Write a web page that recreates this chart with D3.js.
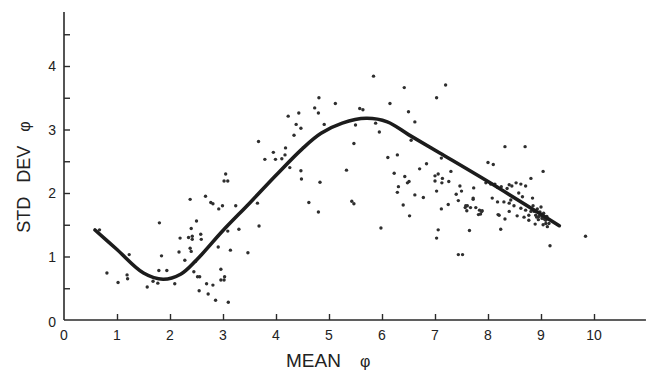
<!DOCTYPE html>
<html>
<head>
<meta charset="utf-8">
<script src="https://cdn.jsdelivr.net/npm/d3@7"></script>
<style>
  html, body { margin: 0; padding: 0; background: #fff; overflow: hidden; }
  svg { display: block; }
  text { font-family: "Liberation Sans", Arial, Helvetica, sans-serif; fill: #222; }
</style>
</head>
<body>
<svg id="chart" width="652" height="372"></svg>
<script>
// ---- data ----
const meanPhi = [
  0.67,0.81,1.02,1.23,1.19,1.20,1.57,1.68,1.77,1.79,1.94,1.80,1.84,2.09,2.17,2.19,2.28,2.35,2.38,2.40,
  2.42,2.42,2.38,2.40,2.50,2.58,2.59,2.48,2.45,2.52,2.56,2.55,2.69,2.72,2.81,2.86,2.67,2.77,2.81,2.92,
  2.99,2.91,2.96,2.96,3.03,3.02,3.10,3.05,3.02,3.09,3.24,3.09,3.14,3.30,3.47,3.68,3.65,
  3.67,3.79,3.95,3.99,4.11,4.17,4.18,4.26,4.23,4.38,4.43,4.47,4.34,4.47,4.48,4.62,4.80,4.73,4.80,4.81,
  4.91,5.12,5.33,5.43,5.47,5.47,5.50,5.58,5.64,5.84,5.88,5.95,5.98,6.15,6.11,6.29,6.23,6.42,6.50,6.62,
  6.55,4.83,6.43,6.48,6.51,6.31,6.29,6.62,6.71,6.84,6.78,6.40,6.52,7.00,7.00,7.03,7.06,7.03,7.06,7.03,
  7.20,7.12,
  7.13,7.30,7.14,7.26,7.25,7.12,7.65,7.44,7.52,7.47,7.50,7.40,7.61,7.57,7.60,7.73,7.72,7.77,7.82,7.86,
  7.89,8.00,8.10,7.96,8.13,8.18,8.25,8.32,8.70,9.04,8.19,8.32,8.24,9.17,9.84,7.44,7.72,7.58,7.67,7.84,
  7.88,8.05,8.36,8.45,8.53,8.62,8.71,8.81,8.08,8.18,8.30,8.40,8.49,8.58,8.65,8.62,8.71,8.81,8.84,8.87,
  8.90,8.96,9.02,9.09,8.77,8.40,8.43,9.15,8.77,8.68,8.55,8.21,9.09,9.04,9.12,8.89,9.02,9.06,9.11,8.40,
  8.93,8.98,9.05,8.85,9.00,8.95,8.92
];
const stdPhi = [
  1.42,0.74,0.59,1.03,0.71,0.65,0.52,0.61,0.58,0.78,0.78,1.53,1.01,0.57,1.07,1.29,0.94,1.30,1.90,1.44,
  1.32,1.27,1.13,1.08,1.56,1.35,1.27,0.92,0.76,0.68,0.68,0.46,0.57,0.41,0.55,0.31,1.95,1.85,1.83,1.75,
  1.80,1.15,0.80,0.63,0.68,0.63,0.28,2.30,2.19,2.19,1.80,1.40,1.10,1.43,1.06,1.48,1.84,
  2.81,2.53,2.64,2.53,2.54,2.60,2.71,2.40,3.21,3.08,3.26,3.02,2.91,2.35,2.22,1.85,1.70,3.34,3.26,3.50,
  3.08,3.41,2.36,1.87,1.83,2.78,3.07,3.33,3.31,3.84,3.10,2.96,1.45,3.41,2.56,2.60,2.31,3.66,3.28,3.12,
  2.83,2.17,2.26,2.16,2.18,2.10,2.01,1.97,2.38,2.46,1.93,1.81,1.64,2.27,2.19,2.03,1.42,1.29,2.30,3.50,
  3.70,2.55,
  2.16,2.34,2.23,2.18,1.82,1.75,1.41,1.03,1.03,2.11,2.03,1.98,1.80,1.77,1.72,2.08,1.92,1.77,1.66,1.67,
  1.72,2.48,2.45,2.16,2.14,2.09,2.10,2.73,2.73,2.34,1.66,1.59,1.43,1.17,1.32,1.88,1.90,1.80,1.77,1.73,
  1.71,2.14,2.07,2.11,2.16,2.14,2.11,2.23,1.92,1.86,1.86,1.84,1.80,2.00,1.94,1.76,1.73,1.71,1.92,1.71,
  1.65,1.63,1.60,1.57,1.65,1.71,1.89,1.52,1.57,1.62,1.64,1.65,1.52,1.50,1.47,1.51,1.63,1.59,1.63,2.13,
  1.75,1.70,1.68,1.80,1.78,1.58,1.62
];
// fitted trend curve
const curveMean = [0.585,1.0,1.5,1.87,2.2,2.5,3.0,3.5,4.0,4.5,4.85,5.25,5.7,6.1,6.5,7.09,8.0,9.345];
const curveStd  = [1.417,1.11,0.74,0.641,0.72,0.945,1.41,1.84,2.28,2.70,2.94,3.10,3.176,3.12,2.92,2.63,2.18,1.485];

const xTicks = [1,2,3,4,5,6,7,8,9,10];
const xTickLabels = ["1","2","3","4","5","6","7","8","9","10"];
const yTicks = [0.5,1,1.5,2,2.5,3,3.5,4,4.5];
const yLabelVals = [0,1,2,3,4];
const yLabelText = ["0","1","2","3","4"];

// ---- scales ----
const svg = d3.select("#chart");
const x = d3.scaleLinear().domain([0, 10]).range([64, 594]);
const y = d3.scaleLinear().domain([0, 4]).range([320, 66]);
const axisColor = "#2a2a2a";

// axes lines
svg.append("line").attr("x1", x(0)).attr("x2", x(10.98)).attr("y1", y(0)).attr("y2", y(0))
  .attr("stroke", axisColor).attr("stroke-width", 1.6);
svg.append("line").attr("x1", x(0)).attr("x2", x(0)).attr("y1", y(0)).attr("y2", y(4.85))
  .attr("stroke", axisColor).attr("stroke-width", 1.6);

// x ticks (inside, pointing up)
const xAxis = d3.axisTop(x).tickValues(xTicks).tickSize(6).tickFormat("");
const gx = svg.append("g").attr("transform", `translate(0,${y(0)})`).call(xAxis);
gx.select(".domain").remove();
gx.selectAll(".tick line").attr("stroke", axisColor).attr("stroke-width", 1.4);

// y ticks (inside, pointing right)
const yAxis = d3.axisRight(y).tickValues(yTicks).tickSize(6).tickFormat("");
const gy = svg.append("g").attr("transform", `translate(${x(0)},0)`).call(yAxis);
gy.select(".domain").remove();
gy.selectAll(".tick line").attr("stroke", axisColor).attr("stroke-width", 1.4);

// tick labels
svg.append("g").selectAll("text").data(xTicks).join("text")
  .attr("x", d => x(d)).attr("y", 340)
  .attr("text-anchor", "middle").attr("font-size", 14)
  .text((d, i) => xTickLabels[i]);
svg.append("text").attr("x", x(0)).attr("y", 340).attr("text-anchor", "middle")
  .attr("font-size", 14).text("0");
svg.append("g").selectAll("text").data(yLabelVals).join("text")
  .attr("x", 56).attr("y", d => y(d) + (d === 0 ? 7 : 5))
  .attr("text-anchor", "end").attr("font-size", 14)
  .text((d, i) => yLabelText[i]);

// axis titles
const xt = svg.append("text").attr("x", 286).attr("y", 367).attr("font-size", 19);
xt.append("tspan").text("MEAN");
xt.append("tspan").attr("dx", 19).attr("font-size", 16).text("φ");

const yt = svg.append("text").attr("transform", "translate(30,177) rotate(-90)")
  .attr("text-anchor", "middle").attr("font-size", 18);
yt.append("tspan").text("STD");
yt.append("tspan").attr("dx", 14).text("DEV");
yt.append("tspan").attr("dx", 14).attr("font-size", 16).text("φ");

// scatter points
const pts = meanPhi.map((m, i) => ({ m, s: stdPhi[i] }));
svg.append("g").selectAll("circle").data(pts).join("circle")
  .attr("cx", d => x(d.m)).attr("cy", d => y(d.s)).attr("r", 1.7)
  .attr("fill", "#2e2e2e");

// trend curve
const cpts = curveMean.map((m, i) => [m, curveStd[i]]);
const line = d3.line().x(d => x(d[0])).y(d => y(d[1])).curve(d3.curveCatmullRom.alpha(0.5));
svg.append("path").datum(cpts).attr("d", line)
  .attr("fill", "none").attr("stroke", "#1c1c1c").attr("stroke-width", 3.6)
  .attr("stroke-linecap", "round").attr("stroke-linejoin", "round");
</script>
</body>
</html>
